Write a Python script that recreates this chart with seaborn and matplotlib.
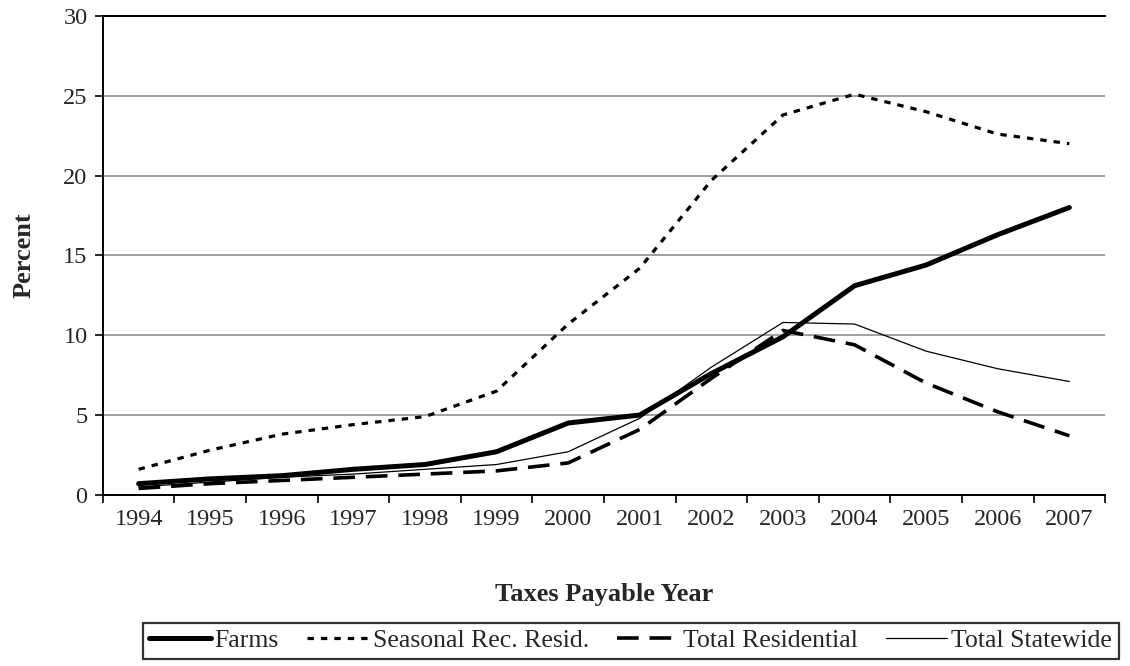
import numpy as np
import pandas as pd
import matplotlib
matplotlib.use("Agg")
import matplotlib.pyplot as plt
import seaborn as sns

years = ["1994", "1995", "1996", "1997", "1998", "1999", "2000",
         "2001", "2002", "2003", "2004", "2005", "2006", "2007"]
farms = [0.7, 1.0, 1.2, 1.6, 1.9, 2.7, 4.5, 5.0, 7.6, 9.9, 13.1, 14.4, 16.3, 18.0]
seasonal = [1.6, 2.8, 3.8, 4.4, 4.9, 6.5, 10.7, 14.2, 19.7, 23.8, 25.1, 24.0, 22.6, 22.0]
total_res = [0.4, 0.7, 0.9, 1.1, 1.3, 1.5, 2.0, 4.1, 7.3, 10.3, 9.4, 7.0, 5.2, 3.7]
total_state = [0.5, 0.8, 1.1, 1.3, 1.6, 1.9, 2.7, 4.8, 8.0, 10.8, 10.7, 9.0, 7.9, 7.1]

sns.set_style("white")
plt.rcParams['font.family'] = ['Liberation Serif', 'DejaVu Serif']

fig = plt.figure(figsize=(11.3, 6.66), dpi=100)
ax = fig.add_axes([0.091, 0.257, 0.887, 0.719])

df = pd.DataFrame({"pos": np.arange(len(years))})
series = [
    ("Farms", farms, dict(color="black", linewidth=3.6, linestyle="-")),
    ("Seasonal Rec. Resid.", seasonal, dict(color="black", linewidth=2.3, linestyle=(0, (2.0, 2.2)))),
    ("Total Residential", total_res, dict(color="black", linewidth=2.6, linestyle=(0, (6, 3)))),
    ("Total Statewide", total_state, dict(color="black", linewidth=0.9, linestyle="-")),
]
for name, vals, style in series:
    df["val"] = vals
    sns.lineplot(data=df, x="pos", y="val", ax=ax, label=name, **style)

ax.set_xlim(-0.5, len(years) - 0.5)
ax.set_ylim(0, 30)
ax.set_yticks(np.arange(0, 31, 5))
ax.yaxis.grid(True, color="#999999", linewidth=1.3)
ax.set_axisbelow(True)

# category boundaries as major ticks, labels on minor ticks at centers
ax.set_xticks(np.arange(-0.5, len(years), 1.0))
ax.set_xticklabels([])
ax.set_xticks(np.arange(len(years)), minor=True)
ax.set_xticklabels(years, minor=True)
ax.tick_params(axis="x", which="major", direction="out", length=6, width=1.2, color="black", bottom=True)
ax.tick_params(axis="x", which="minor", length=0, pad=10, labelsize=17.5)
ax.tick_params(axis="y", direction="out", length=6, width=1.2, color="black", left=True, labelsize=17.5, pad=5)

for s in ["left", "bottom", "top"]:
    ax.spines[s].set_color("black")
    ax.spines[s].set_linewidth(1.4)
ax.spines["right"].set_visible(False)

ax.set_xlabel("Taxes Payable Year", fontsize=19, fontweight="bold", labelpad=38)
ax.set_ylabel("Percent", fontsize=19, fontweight="bold", labelpad=20)

ax.legend_.remove()
handles, labels = ax.get_legend_handles_labels()
leg = fig.legend(handles, labels, ncol=4, loc="center",
                 bbox_to_anchor=(0.558, 0.038), frameon=True, fancybox=False,
                 edgecolor="black", fontsize=18.5, handlelength=2.4,
                 handletextpad=0.15, columnspacing=1.1, borderpad=0.25,
                 borderaxespad=0)
leg.get_frame().set_linewidth(1.6)

fig.savefig("out.png", dpi=100)
